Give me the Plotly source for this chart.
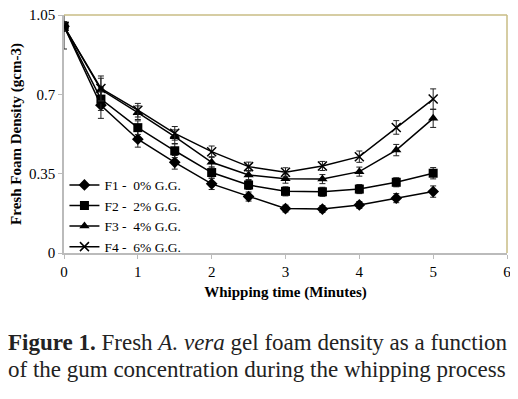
import plotly.graph_objects as go

time_min = [0, 0.5, 1, 1.5, 2, 2.5, 3, 3.5, 4, 4.5, 5]
f1 = [1.00, 0.652, 0.502, 0.400, 0.305, 0.249, 0.196, 0.194, 0.212, 0.242, 0.271]
f2 = [1.00, 0.679, 0.553, 0.451, 0.355, 0.300, 0.272, 0.270, 0.282, 0.312, 0.352]
f3 = [1.00, 0.721, 0.619, 0.513, 0.400, 0.344, 0.328, 0.326, 0.359, 0.454, 0.594]
f4 = [1.00, 0.726, 0.630, 0.528, 0.447, 0.381, 0.356, 0.384, 0.425, 0.554, 0.679]
f1_err = [0.10, 0.058, 0.035, 0.03, 0.025, 0.02, 0.015, 0.015, 0.015, 0.02, 0.025]
f2_err = [0.02, 0.05, 0.03, 0.03, 0.025, 0.02, 0.02, 0.02, 0.02, 0.02, 0.025]
f3_err = [0.02, 0.05, 0.03, 0.03, 0.025, 0.02, 0.02, 0.02, 0.02, 0.025, 0.04]
f4_err = [0.02, 0.055, 0.03, 0.03, 0.025, 0.02, 0.02, 0.02, 0.025, 0.03, 0.045]
names = ["F1 -  0% G.G.", "F2 -  2% G.G.", "F3 -  4% G.G.", "F4 -  6% G.G."]
symbols = ["diamond", "square", "triangle-up", "x-thin"]
sizes = [9, 9, 9, 9]
caption_1 = "<b>Figure 1.</b> Fresh <i>A.</i> <i>vera</i> gel foam density as a function"
caption_2 = "of the gum concentration during the whipping process"

serif = "Liberation Serif, Times New Roman, serif"
fig = go.Figure()
for ys, es, nm, sym, sz in zip([f1, f2, f3, f4], [f1_err, f2_err, f3_err, f4_err], names, symbols, sizes):
    fig.add_trace(go.Scatter(
        x=time_min, y=ys, name=nm, mode="lines+markers",
        line=dict(color="black", width=1.5),
        marker=dict(symbol=sym, size=sz, color="black",
                    line=dict(color="black", width=1.5 if sym == "x-thin" else 0)),
        error_y=dict(type="data", array=es, visible=True, color="#222222", thickness=1, width=3),
    ))

fig.update_layout(
    width=510, height=391,
    margin=dict(l=56, r=11, t=6.5, b=145.7, autoexpand=False),
    paper_bgcolor="white", plot_bgcolor="white",
    font=dict(family=serif, size=14, color="black"),
    showlegend=True,
    legend=dict(x=0.001, y=0.35, xanchor="left", yanchor="top",
                bgcolor="rgba(0,0,0,0)", font=dict(family=serif, size=13.5),
                tracegroupgap=0, itemwidth=30),
    shapes=[
        dict(type="line", xref="paper", yref="paper", x0=0, x1=1, y0=1, y1=1,
             line=dict(color="#c8bc84", width=1.5)),
        dict(type="line", xref="paper", yref="paper", x0=1, x1=1, y0=0, y1=1,
             line=dict(color="#c8bc84", width=1.5)),
    ],
    annotations=[
        dict(xref="paper", yref="paper", x=-0.131, y=-0.376, xanchor="left", yanchor="middle",
             align="left", showarrow=False, text=caption_1,
             font=dict(family=serif, size=23, color="#222222")),
        dict(xref="paper", yref="paper", x=-0.131, y=-0.489, xanchor="left", yanchor="middle",
             align="left", showarrow=False, text=caption_2,
             font=dict(family=serif, size=23, color="#222222")),
    ],
)
fig.update_xaxes(range=[0, 6], tickvals=[0, 1, 2, 3, 4, 5, 6], showgrid=False, zeroline=False,
                 automargin=False, ticklabeloverflow="allow",
                 showline=True, linecolor="#bbbbbb", linewidth=1.5, ticks="outside", ticklen=4,
                 tickcolor="#bbbbbb", tickfont=dict(family=serif, size=15),
                 title=dict(text="<b>Whipping time (Minutes)</b>", font=dict(family=serif, size=15), standoff=8))
fig.update_yaxes(range=[0, 1.05], tickvals=[0, 0.35, 0.7, 1.05], ticktext=["0", "0.35", "0.7", "1.05"],
                 showgrid=False, zeroline=False, automargin=False, ticklabeloverflow="allow",
                 showline=True, linecolor="#bbbbbb", linewidth=1.5, ticks="outside", ticklen=4,
                 tickcolor="#bbbbbb", tickfont=dict(family=serif, size=15),
                 title=dict(text="<b>Fresh Foam Density (gcm-3)</b>", font=dict(family=serif, size=15), standoff=5))

fig.write_html("out.html")
